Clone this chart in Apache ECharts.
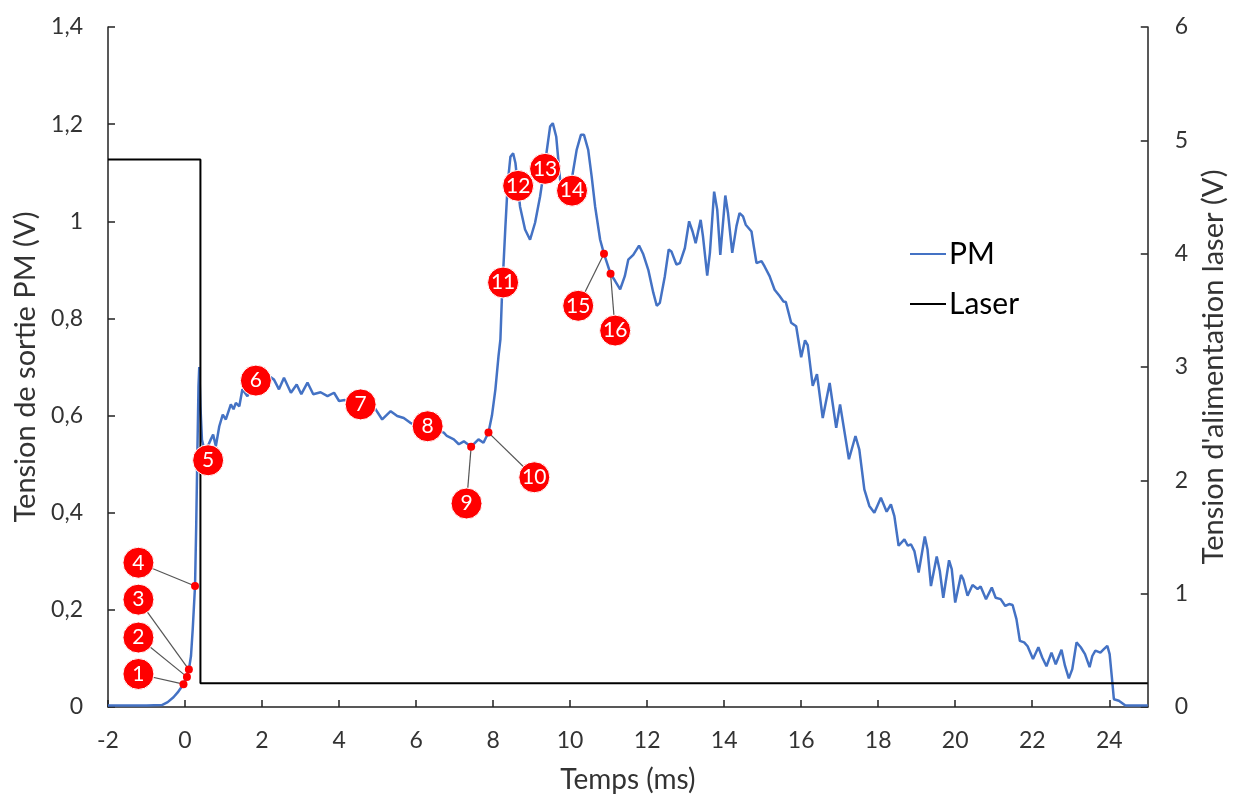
<!DOCTYPE html>
<html>
<head>
<meta charset="utf-8">
<script src="https://cdn.jsdelivr.net/npm/echarts@6/dist/echarts.min.js"></script>
<style>
html,body{margin:0;padding:0;background:#fff;}
#c{width:1236px;height:799px;}
</style>
</head>
<body>
<div id="c"></div>
<script>
// PM signal: [time (ms), voltage (V)]
const pmData = [
[-2.0,0.003],[-1.0,0.003],[-0.6,0.004],[-0.45,0.01],[-0.3,0.02],[-0.19,0.03],[-0.1,0.04],[-0.04,0.047],
[0.05,0.062],[0.10,0.077],[0.155,0.105],[0.20,0.16],[0.26,0.249],[0.29,0.37],[0.32,0.52],[0.35,0.66],
[0.37,0.70],[0.40,0.62],[0.44,0.55],[0.50,0.53],[0.58,0.535],[0.67,0.551],[0.73,0.561],[0.80,0.537],
[0.89,0.578],[0.98,0.602],[1.06,0.592],[1.19,0.623],[1.26,0.613],[1.32,0.626],[1.41,0.619],[1.49,0.654],
[1.62,0.64],[1.75,0.66],[1.95,0.675],[2.08,0.68],[2.19,0.681],[2.31,0.674],[2.44,0.654],[2.57,0.678],
[2.75,0.647],[2.9,0.664],[3.02,0.644],[3.18,0.668],[3.33,0.644],[3.52,0.648],[3.7,0.64],[3.87,0.647],
[4.0,0.63],[4.15,0.632],[4.35,0.625],[4.55,0.622],[4.75,0.62],[4.9,0.619],[5.12,0.592],[5.34,0.609],
[5.51,0.599],[5.68,0.595],[5.85,0.585],[6.0,0.58],[6.3,0.575],[6.55,0.57],[6.72,0.565],[6.8,0.558],
[6.98,0.551],[7.11,0.541],[7.24,0.547],[7.43,0.536],[7.62,0.551],[7.75,0.544],[7.88,0.565],[7.97,0.60],
[8.06,0.654],[8.14,0.722],[8.19,0.757],[8.23,0.846],[8.32,0.99],[8.38,1.078],[8.45,1.133],[8.52,1.14],
[8.58,1.12],[8.7,1.03],[8.83,0.983],[8.96,0.962],[9.09,0.997],[9.22,1.051],[9.35,1.12],[9.48,1.195],
[9.55,1.202],[9.64,1.174],[9.74,1.086],[9.85,1.07],[9.95,1.065],[10.05,1.09],[10.17,1.147],[10.28,1.178],
[10.36,1.178],[10.47,1.147],[10.56,1.092],[10.65,1.03],[10.78,0.962],[10.88,0.933],[11.05,0.892],[11.17,0.877],
[11.3,0.86],[11.42,0.887],[11.51,0.921],[11.64,0.931],[11.79,0.95],[11.9,0.932],[12.03,0.9],[12.16,0.853],
[12.25,0.826],[12.33,0.832],[12.46,0.887],[12.56,0.942],[12.63,0.938],[12.76,0.911],[12.85,0.914],[12.98,0.945],
[13.09,1.0],[13.18,0.979],[13.26,0.955],[13.39,1.003],[13.45,0.969],[13.56,0.888],[13.63,0.935],[13.74,1.061],
[13.82,1.024],[13.9,0.931],[14.03,1.053],[14.1,1.017],[14.21,0.935],[14.32,0.99],[14.4,1.017],[14.49,1.01],
[14.56,0.993],[14.71,0.979],[14.77,0.948],[14.84,0.914],[14.97,0.918],[15.05,0.907],[15.18,0.887],[15.31,0.859],
[15.44,0.846],[15.54,0.835],[15.6,0.834],[15.74,0.791],[15.87,0.784],[16.0,0.72],[16.1,0.755],[16.17,0.745],
[16.3,0.661],[16.41,0.685],[16.56,0.595],[16.74,0.667],[16.91,0.575],[17.01,0.623],[17.24,0.51],[17.41,0.558],
[17.51,0.53],[17.64,0.448],[17.77,0.414],[17.9,0.4],[18.07,0.431],[18.22,0.402],[18.33,0.417],[18.42,0.393],
[18.53,0.332],[18.68,0.345],[18.77,0.332],[18.85,0.335],[18.94,0.321],[19.05,0.277],[19.21,0.351],[19.28,0.325],
[19.37,0.249],[19.52,0.31],[19.6,0.28],[19.69,0.225],[19.84,0.302],[19.91,0.284],[20.0,0.215],[20.15,0.272],
[20.21,0.263],[20.32,0.229],[20.45,0.251],[20.58,0.243],[20.66,0.248],[20.8,0.222],[20.95,0.246],[21.05,0.225],
[21.18,0.222],[21.3,0.208],[21.4,0.212],[21.49,0.21],[21.59,0.181],[21.68,0.136],[21.79,0.133],[21.88,0.125],
[22.02,0.099],[22.16,0.123],[22.26,0.102],[22.37,0.084],[22.5,0.112],[22.61,0.088],[22.76,0.118],[22.85,0.085],
[22.95,0.059],[23.04,0.078],[23.15,0.133],[23.26,0.123],[23.37,0.109],[23.49,0.082],[23.56,0.105],[23.64,0.116],
[23.77,0.112],[23.86,0.119],[23.95,0.126],[24.01,0.109],[24.08,0.051],[24.12,0.016],[24.25,0.013],[24.42,0.003],
[25.0,0.003]
];
// Laser supply: [time (ms), voltage (V)]
const laserData = [[-2,4.83],[0.40,4.83],[0.40,0.21],[25,0.21]];
// Numbered markers: [time, PM voltage, number]
const markerLabels = [
[-1.21,0.068,1],[-1.21,0.143,2],[-1.21,0.221,3],[-1.21,0.297,4],
[0.6,0.508,5],[1.84,0.672,6],[4.56,0.623,7],[6.3,0.578,8],
[7.31,0.419,9],[9.07,0.473,10],[8.26,0.874,11],[8.65,1.073,12],
[9.35,1.108,13],[10.05,1.063,14],[10.21,0.826,15],[11.17,0.775,16]
];
// Small red dots on the curve: [time, voltage, number they refer to]
const markerDots = [
[-0.04,0.047,1],[0.05,0.062,2],[0.10,0.077,3],[0.26,0.249,4],
[7.43,0.536,9],[7.88,0.565,10],[10.88,0.933,15],[11.05,0.892,16]
];
const xTicks = {min:-2, max:25, interval:2};
const yLeft = {min:0, max:1.4, interval:0.2};
const yRight = {min:0, max:6, interval:1};

const leaders = markerDots.map(d => {
  const lab = markerLabels.find(m => m[2] === d[2]);
  return {coords: [[d[0], d[1]], [lab[0], lab[1]]]};
});

const FONT = 'Lato';
const TXT = '#333';
const AX = '#222';
const chart = echarts.init(document.getElementById('c'), null, {renderer:'canvas'});
chart.setOption({
  animation:false,
  backgroundColor:'#fff',
  grid:{left:108, right:88, top:27, bottom:91, containLabel:false},
  legend:{
    orient:'vertical', left:905, top:234, itemGap:20, itemWidth:36, itemHeight:2,
    icon:'rect',
    textStyle:{fontFamily:FONT, fontSize:30, lineHeight:30, color:'#000', padding:[0,0,0,-2]},
    data:['PM','Laser']
  },
  xAxis:{
    type:'value', min:xTicks.min, max:xTicks.max, interval:xTicks.interval,
    name:'Temps (ms)', nameLocation:'middle', nameGap:59,
    nameTextStyle:{fontFamily:FONT, fontSize:28, color:TXT},
    axisLine:{onZero:false, lineStyle:{color:AX, width:1.5}},
    axisTick:{inside:true, length:7, lineStyle:{color:AX, width:1.5}},
    axisLabel:{fontFamily:FONT, fontSize:23, color:TXT, margin:22, showMaxLabel:false},
    splitLine:{show:false}
  },
  yAxis:[{
    type:'value', position:'left', min:yLeft.min, max:yLeft.max, interval:yLeft.interval,
    name:'Tension de sortie PM (V)', nameLocation:'middle', nameGap:66, nameRotate:90,
    nameTextStyle:{fontFamily:FONT, fontSize:29, color:TXT},
    axisLine:{show:true, onZero:false, lineStyle:{color:AX, width:1.5}},
    axisTick:{show:true, inside:true, length:7, lineStyle:{color:AX, width:1.5}},
    axisLabel:{fontFamily:FONT, fontSize:23, color:TXT, margin:25,
      formatter:v => String(Math.round(v*10)/10).replace('.', ',')},
    splitLine:{show:false}
  },{
    type:'value', position:'right', min:yRight.min, max:yRight.max, interval:yRight.interval,
    name:"Tension d'alimentation laser (V)", nameLocation:'middle', nameGap:50, nameRotate:90,
    nameTextStyle:{fontFamily:FONT, fontSize:29, color:TXT},
    axisLine:{show:true, onZero:false, lineStyle:{color:AX, width:1.5}},
    axisTick:{show:true, inside:true, length:7, lineStyle:{color:AX, width:1.5}},
    axisLabel:{fontFamily:FONT, fontSize:23, color:TXT, margin:27},
    splitLine:{show:false}
  }],
  series:[
    {name:'PM', type:'line', data:pmData, yAxisIndex:0, symbol:'none', smooth:false,
     lineStyle:{color:'#4472C4', width:2.5}, itemStyle:{color:'#4472C4'}, z:2},
    {name:'Laser', type:'line', data:laserData, yAxisIndex:1, symbol:'none',
     lineStyle:{color:'#000', width:2}, itemStyle:{color:'#000'}, z:3},
    {type:'lines', coordinateSystem:'cartesian2d', xAxisIndex:0, yAxisIndex:0, data:leaders,
     lineStyle:{color:'#555', width:1.2, opacity:1}, z:4, silent:true},
    {type:'scatter', data:markerDots, yAxisIndex:0, symbol:'circle', symbolSize:8,
     itemStyle:{color:'#FF0000', opacity:1}, z:5, silent:true},
    {type:'scatter', data:markerLabels, yAxisIndex:0, symbol:'circle', symbolSize:31,
     itemStyle:{color:'#FF0000', opacity:1, borderColor:'#fff', borderWidth:1}, z:6, silent:true,
     label:{show:true, position:'inside', formatter:p => String(p.value[2]),
       fontFamily:FONT, fontSize:21, color:'#fff'}}
  ]
});
</script>
</body>
</html>
